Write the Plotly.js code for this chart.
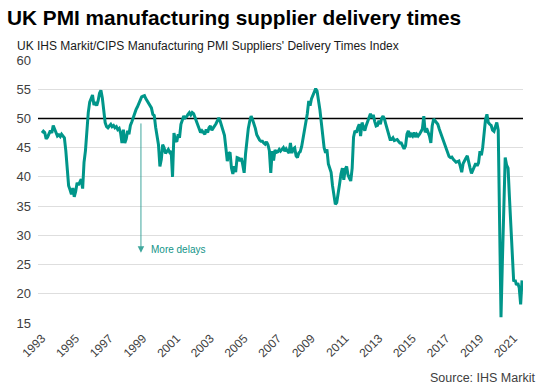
<!DOCTYPE html>
<html>
<head>
<meta charset="utf-8">
<script src="https://cdn.plot.ly/plotly-3.0.1.min.js"></script>
<style>html,body{margin:0;padding:0;background:#fff}#chart{width:542px;height:389px}</style>
</head>
<body>
<div id="chart"></div>
<script>
// Monthly index values, starting January 1993
var startYear = 1993;
var deliveryTimes = [
  47.5, 47.8, 47.6, 46.5, 46.8, 47.3, 47.9, 47.5, 48.8, 48.2, 47.5, 47.0, // 1993
  47.2, 46.9, 47.3, 47.0, 46.7, 44.5, 41.0, 38.5, 37.8, 37.0, 38.1, 36.6, // 1994
  37.5, 39.0, 38.6, 39.3, 39.6, 38.0, 42.5, 44.5, 48.0, 51.0, 52.8, 53.5, // 1995
  54.0, 52.3, 52.8, 52.2, 53.0, 54.3, 54.8, 53.5, 51.2, 49.3, 48.6, 48.4, // 1996
  48.7, 49.0, 48.6, 48.8, 48.4, 48.6, 48.1, 48.3, 47.5, 45.8, 48.1, 45.8, // 1997
  46.5, 47.9, 47.3, 48.8, 49.4, 50.2, 50.8, 51.5, 52.0, 52.6, 53.2, 53.7, // 1998
  53.8, 53.9, 53.4, 53.0, 52.6, 52.2, 51.8, 50.7, 50.5, 48.5, 47.0, 45.5, // 1999
  41.8, 43.0, 45.5, 45.0, 44.0, 44.5, 44.7, 44.2, 44.4, 40.0, 47.5, 46.3, // 2000
  46.0, 47.3, 46.7, 49.0, 49.8, 50.4, 50.1, 50.3, 50.7, 51.0, 50.6, 51.0, // 2001
  50.8, 50.2, 49.6, 49.0, 48.4, 47.6, 47.9, 47.5, 47.3, 48.1, 47.6, 48.4, // 2002
  48.7, 48.0, 48.3, 48.6, 49.1, 49.6, 50.1, 49.5, 48.7, 48.0, 47.1, 45.0, // 2003
  42.7, 44.0, 44.2, 41.5, 40.5, 41.8, 40.8, 43.3, 43.2, 42.7, 43.2, 42.1, // 2004
  40.7, 44.0, 46.5, 48.3, 49.5, 50.4, 49.8, 49.1, 48.3, 47.2, 46.7, 46.3, // 2005
  46.1, 46.1, 45.8, 45.6, 46.0, 45.5, 44.5, 40.7, 44.4, 42.8, 44.6, 44.2, // 2006
  44.3, 44.7, 44.4, 44.7, 45.0, 44.4, 44.8, 44.4, 44.1, 45.8, 44.1, 44.8, // 2007
  45.0, 43.6, 43.3, 44.1, 44.3, 45.2, 46.5, 47.8, 49.3, 50.8, 53.0, 52.2, // 2008
  53.4, 54.0, 54.5, 55.1, 54.7, 53.2, 51.5, 49.3, 46.8, 45.0, 44.1, 44.7, // 2009
  42.2, 41.3, 40.8, 38.5, 36.7, 35.3, 35.6, 37.0, 38.8, 40.5, 41.5, 39.5, // 2010
  41.3, 41.8, 40.4, 39.8, 39.3, 41.5, 46.8, 47.9, 47.6, 48.4, 49.0, 47.0, // 2011
  49.3, 48.5, 47.9, 48.8, 49.5, 50.1, 50.8, 50.1, 50.6, 49.5, 48.7, 48.8, // 2012
  49.6, 49.0, 50.0, 50.4, 49.9, 49.0, 48.2, 47.0, 46.4, 46.4, 46.7, 46.2, // 2013
  46.3, 46.4, 46.1, 45.8, 45.8, 45.2, 44.8, 45.3, 47.3, 47.9, 46.8, 47.3, // 2014
  47.0, 47.6, 46.8, 47.3, 47.0, 47.3, 47.7, 48.2, 50.4, 47.6, 48.3, 47.8, // 2015
  47.0, 45.8, 48.7, 49.9, 49.6, 49.4, 49.0, 48.2, 47.5, 46.8, 46.2, 45.8, // 2016
  45.0, 44.3, 43.5, 43.3, 43.4, 43.0, 42.8, 42.5, 42.6, 42.7, 41.8, 40.8, // 2017
  42.3, 42.9, 43.2, 43.6, 42.3, 41.5, 40.6, 41.3, 42.0, 42.3, 41.9, 42.4, // 2018
  44.4, 43.7, 45.0, 47.5, 49.8, 50.7, 49.3, 49.0, 48.8, 48.0, 47.8, 48.6, // 2019
  49.3, 48.0, 32.0, 16.0, 25.5, 35.0, 43.3, 42.0, 41.5, 36.5, 31.5, 26.5, // 2020
  22.1, 22.4, 21.5, 21.8, 21.0, 18.2, 22.3                                // 2021
];
var tickYears = [1993, 1995, 1997, 1999, 2001, 2003, 2005, 2007, 2009, 2011, 2013, 2015, 2017, 2019, 2021];
var noChangeLevel = 50;
var annotationText = 'More delays';
var xRange = ['1992-10-06', '2021-07-22'];

function pad(n){ return n < 10 ? '0' + n : '' + n; }
var dates = deliveryTimes.map(function(v, i){
  var y = startYear + Math.floor(i / 12);
  var m = (i % 12) + 1;
  return y + '-' + pad(m) + '-01';
});

var teal = '#00968a';
var fontFam = '"Liberation Sans", Arial, sans-serif';

var refLine = {
  x: xRange,
  y: [noChangeLevel, noChangeLevel],
  type: 'scatter',
  mode: 'lines',
  line: {color: '#000000', width: 1.5},
  hoverinfo: 'skip',
  cliponaxis: false
};

var trace = {
  x: dates,
  y: deliveryTimes,
  type: 'scatter',
  mode: 'lines',
  line: {color: teal, width: 3},
  hoverinfo: 'skip'
};

var layout = {
  width: 542,
  height: 389,
  margin: {l: 38, r: 19, t: 60, b: 66, pad: 0},
  paper_bgcolor: '#ffffff',
  plot_bgcolor: '#ffffff',
  font: {family: fontFam, color: '#404040'},
  showlegend: false,
  xaxis: {
    type: 'date',
    range: xRange,
    tickvals: tickYears.map(function(y){ return y + '-01-01'; }),
    ticktext: tickYears.map(function(y){ return '' + y; }),
    tickangle: -45,
    tickfont: {size: 12, color: '#404040', family: fontFam},
    showgrid: false,
    showline: false,
    zeroline: false,
    ticks: '',
    ticklabelstandoff: 5
  },
  yaxis: {
    range: [15, 60],
    tick0: 15,
    dtick: 5,
    gridcolor: '#dedede',
    gridwidth: 1,
    showline: false,
    zeroline: false,
    ticks: '',
    tickfont: {size: 13, color: '#404040', family: fontFam},
    ticklabelstandoff: 6
  },
  annotations: [
    {
      xref: 'paper', yref: 'paper', x: -0.068, y: 1.16, xanchor: 'left', yanchor: 'middle',
      text: '<b>UK PMI manufacturing supplier delivery times</b>', showarrow: false,
      font: {size: 20.8, color: '#000000', family: fontFam}
    },
    {
      xref: 'paper', yref: 'paper', x: -0.047, y: 1.052, xanchor: 'left', yanchor: 'middle',
      text: "UK IHS Markit/CIPS Manufacturing PMI Suppliers' Delivery Times Index", showarrow: false,
      font: {size: 12, color: '#1a1a1a', family: fontFam}
    },
    {
      xref: 'paper', yref: 'paper', x: 1.029, y: -0.209, xanchor: 'right', yanchor: 'middle',
      text: 'Source: IHS Markit', showarrow: false,
      font: {size: 12.5, color: '#404040', family: fontFam}
    },
    {
      xref: 'x', yref: 'y', x: '1998-11-16', y: 27.0,
      axref: 'x', ayref: 'y', ax: '1998-11-16', ay: 49.4,
      text: '', showarrow: true, arrowhead: 2, arrowsize: 1.3, arrowwidth: 1,
      arrowcolor: '#3fa79d'
    },
    {
      xref: 'x', yref: 'y', x: '1999-05-01', y: 27.6, xanchor: 'left', yanchor: 'middle',
      text: annotationText, showarrow: false,
      font: {size: 10, color: '#139488', family: fontFam}
    }
  ]
};

Plotly.newPlot('chart', [refLine, trace], layout, {staticPlot: true, displayModeBar: false});
</script>
</body>
</html>
